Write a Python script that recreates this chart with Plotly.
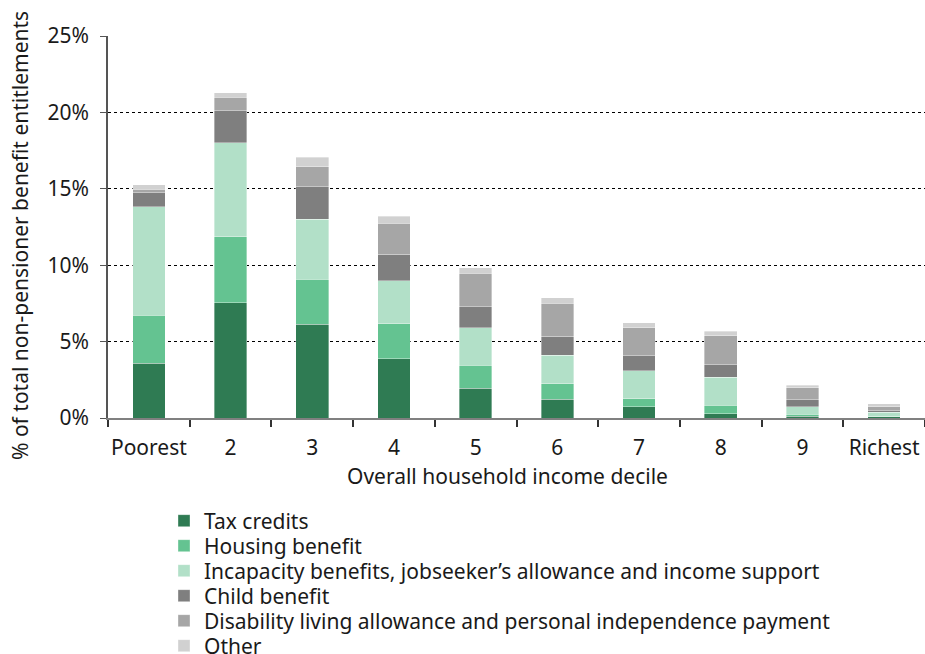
import plotly.graph_objects as go

categories = ["Poorest", "2", "3", "4", "5", "6", "7", "8", "9", "Richest"]
tax_credits = [3.58, 7.55, 6.15, 3.88, 1.96, 1.22, 0.74, 0.28, 0.10, 0.07]
housing_benefit = [3.16, 4.32, 2.93, 2.29, 1.49, 1.03, 0.52, 0.57, 0.14, 0.05]
incapacity = [7.09, 6.13, 3.92, 2.80, 2.46, 1.87, 1.84, 1.83, 0.50, 0.25]
child_benefit = [0.92, 2.10, 2.14, 1.74, 1.37, 1.23, 0.98, 0.79, 0.46, 0.09]
disability = [0.21, 0.90, 1.31, 2.03, 2.19, 2.16, 1.83, 1.92, 0.78, 0.28]
other = [0.31, 0.30, 0.61, 0.48, 0.37, 0.36, 0.33, 0.28, 0.18, 0.20]
y_ticks = [0, 5, 10, 15, 20, 25]
y_tick_labels = ["0%", "5%", "10%", "15%", "20%", "25%"]

series = [
    ("Tax credits", tax_credits, "#2F7B53"),
    ("Housing benefit", housing_benefit, "#64C391"),
    ("Incapacity benefits, jobseeker\u2019s allowance and income support", incapacity, "#B2E0C8"),
    ("Child benefit", child_benefit, "#7F7F7F"),
    ("Disability living allowance and personal independence payment", disability, "#A6A6A6"),
    ("Other", other, "#D1D1D1"),
]

FONT = "Noto Sans"
FS = 21
TXT = "#1a1a1a"

PLOT_TOP, PLOT_BOTTOM, PLOT_LEFT, PLOT_RIGHT = 36, 418, 108, 925
ph = PLOT_BOTTOM - PLOT_TOP
pw = PLOT_RIGHT - PLOT_LEFT

fig = go.Figure()
legend_layouts = {}
for i, (name, vals, color) in enumerate(series):
    lname = "legend" if i == 0 else f"legend{i + 1}"
    fig.add_trace(go.Bar(
        x=categories, y=vals, name=name,
        marker=dict(color=color, line=dict(color="rgba(255,255,255,0.6)", width=0.6)),
        width=0.4,
        legend=lname,
        hoverinfo="skip",
    ))
    yc = 521 + 25 * i
    legend_layouts[lname] = dict(
        x=(164 - PLOT_LEFT) / pw, xanchor="left",
        y=(PLOT_BOTTOM - yc) / ph, yanchor="middle",
        font=dict(family=FONT, size=FS, color=TXT),
        bgcolor="rgba(0,0,0,0)",
        itemclick=False, itemdoubleclick=False,
    )

fig.update_layout(
    barmode="stack",
    width=925, height=654,
    margin=dict(l=PLOT_LEFT, r=925 - PLOT_RIGHT, t=PLOT_TOP, b=654 - PLOT_BOTTOM,
                autoexpand=False),
    plot_bgcolor="white", paper_bgcolor="white",
    font=dict(family=FONT, size=FS, color=TXT),
    showlegend=True,
    xaxis=dict(
        type="category",
        automargin=False,
        showgrid=False,
        showline=True, linecolor="#808080", linewidth=2,
        ticks="outside", tickson="boundaries", ticklen=7, tickcolor="#333333", tickwidth=1.5,
        ticklabelstandoff=10,
        tickangle=0,
        range=[-0.5, 9.5],
    ),
    yaxis=dict(
        automargin=False,
        range=[0, 25],
        tickvals=y_ticks,
        ticktext=y_tick_labels,
        showgrid=True, gridcolor="#000000", griddash="dot", gridwidth=1,
        showline=True, linecolor="#555555", linewidth=1.5,
        ticks="outside", ticklen=6, tickcolor="#555555",
        ticklabelstandoff=7,
        zeroline=False,
    ),
    annotations=[
        dict(text="Overall household income decile", xref="paper", yref="paper",
             x=(507 - PLOT_LEFT) / pw, y=(PLOT_BOTTOM - 476) / ph,
             xanchor="center", yanchor="middle", showarrow=False,
             font=dict(family=FONT, size=FS, color=TXT)),
        dict(text="% of total non-pensioner benefit entitlements", xref="paper", yref="paper",
             x=(20 - PLOT_LEFT) / pw, y=(PLOT_BOTTOM - 236) / ph,
             xanchor="center", yanchor="middle", showarrow=False, textangle=-90,
             font=dict(family=FONT, size=FS, color=TXT)),
    ],
    **legend_layouts,
)

fig.write_html(
    "out.html",
    config={"displayModeBar": False},
    post_script="document.body.style.margin='0';document.body.style.overflow='hidden';",
)
